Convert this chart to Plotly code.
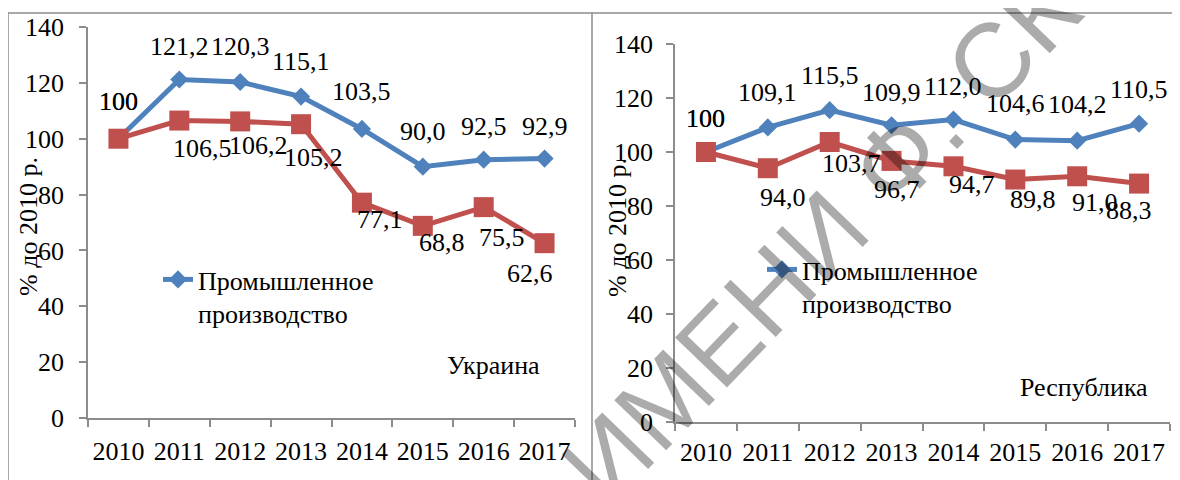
import plotly.graph_objects as go

years = ['2010', '2011', '2012', '2013', '2014', '2015', '2016', '2017']

# Украина
ua_industry = [100, 121.2, 120.3, 115.1, 103.5, 90.0, 92.5, 92.9]
ua_other = [100, 106.5, 106.2, 105.2, 77.1, 68.8, 75.5, 62.6]

# Республика
rb_industry = [100, 109.1, 115.5, 109.9, 112.0, 104.6, 104.2, 110.5]
rb_other = [100, 94.0, 103.7, 96.7, 94.7, 89.8, 91.0, 88.3]

y_ticks = [0, 20, 40, 60, 80, 100, 120, 140]

BLUE = '#4F81BD'
RED = '#C0504D'
AXIS = '#8C8C8C'
FONT = 'Liberation Serif, Times New Roman, DejaVu Serif, serif'
W, H = 1180, 480
OFF = 8  # the page body adds an 8px margin

# label offsets in px (dx, dy) like the hand-moved Excel labels
ua_blue_shift = [(0, 37), (0, 33), (0, 36), (0, 35), (0, 37), (0, 35), (0, 33), (0, 32)]
ua_red_shift = [(0, 37), (23, -28), (18, -24), (12, -33), (18, -17), (19, -17), (18, -30), (-15, -30)]
rb_blue_shift = [(0, 33), (0, 35), (0, 35), (0, 33), (0, 33), (0, 36), (0, 36), (0, 34)]
rb_red_shift = [(0, 33), (15, -29), (22, -21), (5, -29), (19, -18), (18, -20), (18, -26), (-10, -27)]


def fmt(v):
    if v == 100:
        return '100'
    return f'{v:.1f}'.replace('.', ',')


def px(x, y):
    # screen pixel -> paper (margins are zero)
    return (x - OFF) / W, 1 - (y - OFF) / H


def add_panel(fig, industry, other, xa, ya, legend, blue_shift, red_shift):
    fig.add_trace(go.Scatter(
        x=years, y=industry, xaxis=xa, yaxis=ya,
        mode='lines+markers', name='Промышленное<br>производство',
        line=dict(color=BLUE, width=5),
        marker=dict(symbol='diamond', size=14, color=BLUE),
        legend=legend
    ))
    fig.add_trace(go.Scatter(
        x=years, y=other, xaxis=xa, yaxis=ya,
        mode='lines+markers', showlegend=False,
        line=dict(color=RED, width=5),
        marker=dict(symbol='square', size=20, color=RED)
    ))
    # data labels (category axis -> use the category index)
    for vals, shifts in ((industry, blue_shift), (other, red_shift)):
        for i, (v, (dx, dy)) in enumerate(zip(vals, shifts)):
            fig.add_annotation(
                x=i, y=v, xref=xa, yref=ya, text=fmt(v),
                showarrow=False, xshift=dx, yshift=dy,
                xanchor='center', yanchor='middle',
                font=dict(family=FONT, size=26, color='black')
            )


fig = go.Figure()
add_panel(fig, ua_industry, ua_other, 'x', 'y', 'legend', ua_blue_shift, ua_red_shift)
add_panel(fig, rb_industry, rb_other, 'x2', 'y2', 'legend2', rb_blue_shift, rb_red_shift)

axis_common = dict(
    showline=True, linecolor=AXIS, linewidth=1.5, showgrid=False, zeroline=False,
    ticks='outside', ticklen=7, tickcolor=AXIS, tickwidth=1.5,
    tickfont=dict(family=FONT, size=26, color='black'), automargin=False
)

fig.update_layout(
    width=W, height=H,
    template='none',
    paper_bgcolor='white', plot_bgcolor='rgba(0,0,0,0)',
    margin=dict(t=0, l=0, r=0, b=0),
    xaxis=dict(domain=[px(88, 0)[0], px(575, 0)[0]], type='category', range=[-0.5, 7.5],
               tickson='boundaries', tickangle=0, ticklabelstandoff=9, anchor='y', **axis_common),
    yaxis=dict(domain=[px(0, 418)[1], px(0, 27)[1]], range=[0, 140], tickvals=y_ticks,
               ticklabelstandoff=10, anchor='x', **axis_common),
    xaxis2=dict(domain=[px(675, 0)[0], px(1170, 0)[0]], type='category', range=[-0.5, 7.5],
                tickson='boundaries', tickangle=0, ticklabelstandoff=6, anchor='y2', **axis_common),
    yaxis2=dict(domain=[px(0, 422)[1], px(0, 44)[1]], range=[0, 140], tickvals=y_ticks,
                ticklabelstandoff=8, anchor='x2', **axis_common),
    legend=dict(x=px(158, 0)[0], y=px(0, 256)[1], xanchor='left', yanchor='top',
                valign='top', bgcolor='rgba(0,0,0,0)',
                font=dict(family=FONT, size=26, color='black')),
    legend2=dict(x=px(762, 0)[0], y=px(0, 246)[1], xanchor='left', yanchor='top',
                 valign='top', bgcolor='rgba(0,0,0,0)',
                 font=dict(family=FONT, size=26, color='black')),
    showlegend=True
)

# panel captions and axis titles
for text, (cx, cy), angle in [
    ('Украина', (493, 365), 0),
    ('Республика', (1084, 387), 0),
    ('% до 2010 р.', (28, 227), -90),
    ('% до 2010 р.', (618, 228), -90),
]:
    ax_, ay_ = px(cx, cy)
    fig.add_annotation(x=ax_, y=ay_, xref='paper', yref='paper', text=text,
                       showarrow=False, textangle=angle,
                       xanchor='center', yanchor='middle',
                       font=dict(family=FONT, size=26, color='black'))

# frames around the two charts
for (x0, y0), (x1, y1) in [((8, 13), (592, 13)), ((8, 13), (8, 480)),
                           ((592, 13), (592, 480)), ((592, 13), (1180, 13))]:
    a0, b0 = px(x0, y0)
    a1, b1 = px(x1, y1)
    fig.add_shape(type='line', xref='paper', yref='paper', x0=a0, y0=b0, x1=a1, y1=b1,
                  line=dict(color=AXIS, width=1.5))

# watermark
wx, wy = px(957, 96)
fig.add_annotation(x=wx, y=wy, xref='paper', yref='paper', text='ИМЕНИ Ф. СКОРИНЫ',
                   showarrow=False, textangle=-46, xanchor='center', yanchor='middle',
                   font=dict(family='Liberation Sans', size=105, color='rgba(0,0,0,0.33)'))

fig.write_html('out.html')
